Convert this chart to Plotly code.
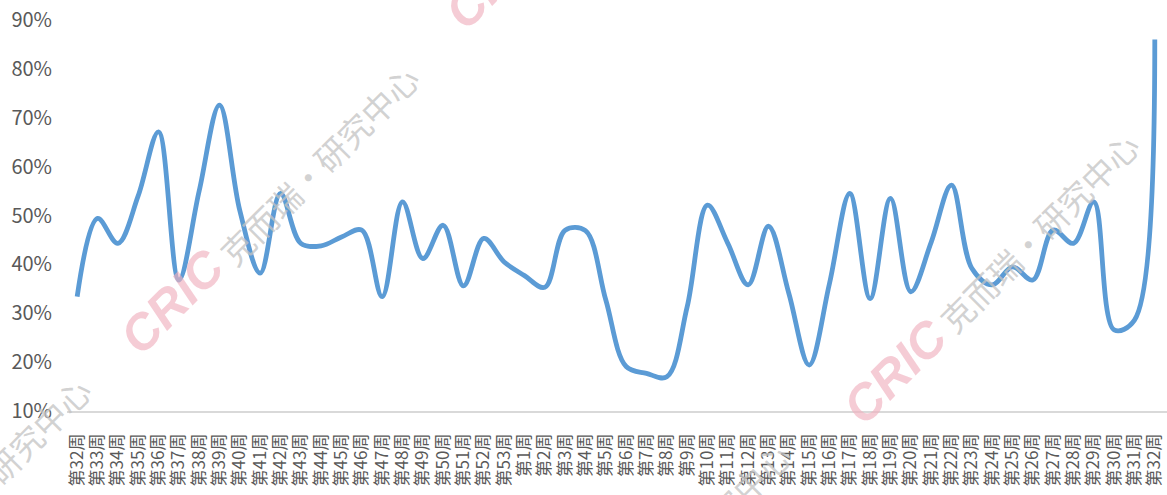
import plotly.graph_objects as go

# ---- data ----
week_labels = ["第%d周" % w for w in range(32, 54)] + ["第%d周" % w for w in range(1, 33)]
values = [
    33.4, 49.4, 44.3, 54.0, 67.1, 36.8, 55.0, 72.6, 51.0, 38.2,
    54.5, 44.3, 43.8, 45.6, 47.0, 33.4, 52.8, 41.2, 48.0, 35.6,
    45.3, 40.5, 37.7, 35.3, 47.0, 46.9, 32.7, 19.1, 17.7, 17.0,
    31.3, 52.1, 44.3, 35.8, 47.8, 34.1, 19.4, 36.1, 54.5, 33.0,
    53.5, 34.4, 44.5, 56.2, 39.2, 35.8, 39.5, 36.8, 47.0, 44.3,
    52.8, 26.6, 28.6, 86.0,
]
y_ticks = [10, 20, 30, 40, 50, 60, 70, 80, 90]

W, H = 1167, 495
L, R, T, B = 67, 0, 20, 84
PW, PH = W - L - R, H - T - B

def px2paper(px, py):
    return (px - L) / PW, (H - B - py) / PH

x_idx = list(range(len(values)))

fig = go.Figure()
fig.add_trace(go.Scatter(
    x=x_idx, y=values, mode="lines",
    line=dict(color="#5B9BD5", width=4.8, shape="spline", smoothing=1.0),
    hoverinfo="skip", showlegend=False, cliponaxis=False,
))

# ---- watermarks ----
annotations = []
def cric(cx, cy):
    x, y = px2paper(cx, cy)
    annotations.append(dict(
        x=x, y=y, xref="paper", yref="paper", text="CRIC", showarrow=False,
        textangle=-45, xanchor="center", yanchor="middle",
        font=dict(family="Liberation Sans", size=50, color="rgba(240,176,190,0.65)",
                  weight=900, style="italic"),
    ))
def cname(cx, cy):
    x, y = px2paper(cx, cy)
    annotations.append(dict(
        x=x, y=y, xref="paper", yref="paper", text="克而瑞·研究中心", showarrow=False,
        textangle=-45, xanchor="center", yanchor="middle",
        font=dict(family="Noto Sans CJK SC", size=33, color="rgba(195,195,195,0.75)"),
    ))

cric(172, 302); cname(319, 165)
cric(895, 372); cname(1039, 232)
cric(497, -23)
cname(-9, 477)
cname(691, 542)

fig.update_layout(
    width=W, height=H,
    margin=dict(l=L, r=R, t=T, b=B, autoexpand=False),
    paper_bgcolor="white", plot_bgcolor="white",
    annotations=annotations,
    xaxis=dict(
        range=[-0.5, 53.6], tickmode="array", tickvals=x_idx, ticktext=week_labels,
        tickangle=-90, showgrid=False, zeroline=False, showline=True,
        linecolor="#D9D9D9", linewidth=1.5, ticks="", automargin=False,
        ticklabelstandoff=14, ticklabeloverflow="allow",
        tickfont=dict(family="Noto Sans CJK SC", size=17, color="#595959"),
    ),
    yaxis=dict(
        range=[10, 90], tickmode="array", tickvals=y_ticks,
        ticktext=["%d%%" % v for v in y_ticks],
        showgrid=False, zeroline=False, showline=False, ticks="",
        automargin=False, ticklabelstandoff=14,
        tickfont=dict(family="Noto Sans CJK SC", size=20, color="#595959"),
    ),
)

fig.write_html("out.html")
